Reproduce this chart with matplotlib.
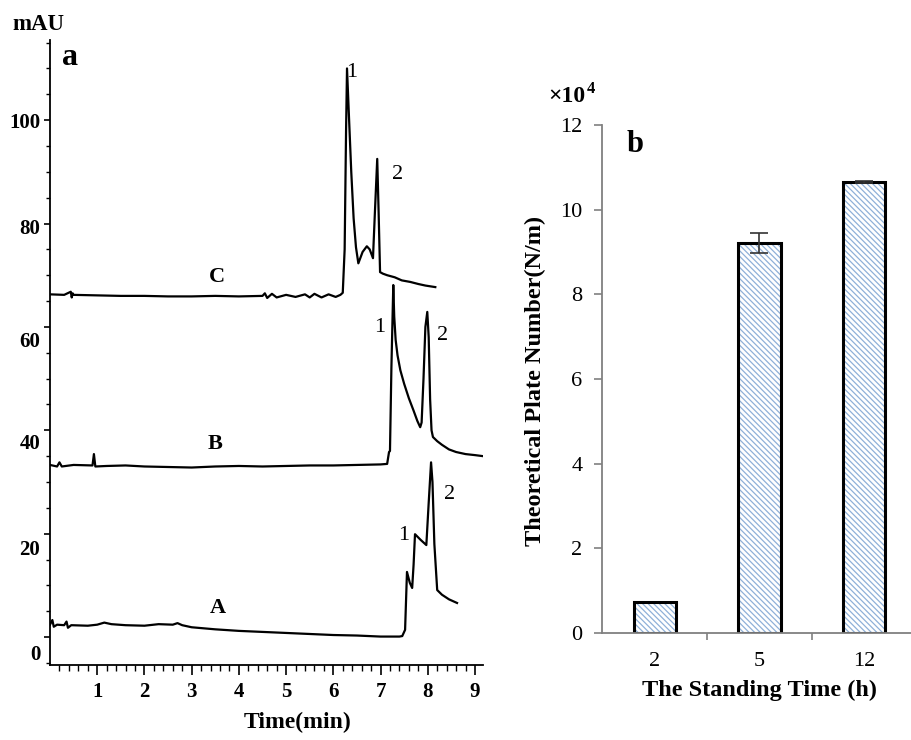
import matplotlib
matplotlib.use("Agg")
import matplotlib.pyplot as plt
from matplotlib.transforms import ScaledTranslation

plt.rcParams["font.family"] = ["Liberation Serif", "DejaVu Serif"]
plt.rcParams["hatch.linewidth"] = 0.9

# ---- panel a: electropherograms (time in min, signal in mAU) ----
time_A = [0.0, 0.05, 0.08, 0.15, 0.3, 0.35, 0.38, 0.45, 0.8, 1.0, 1.15, 1.3, 1.6, 2.0,
          2.3, 2.6, 2.7, 2.8, 3.0, 3.5, 4.0, 4.5, 5.0, 5.5, 6.0, 6.5, 7.0, 7.4, 7.46,
          7.52, 7.56, 7.62, 7.67, 7.70, 7.73, 7.85, 7.97, 8.02, 8.07, 8.10, 8.14, 8.20,
          8.3, 8.45, 8.62]
sig_A = [2.4, 3.3, 2.0, 2.4, 2.3, 3.0, 1.8, 2.3, 2.2, 2.4, 2.8, 2.5, 2.3, 2.2,
         2.5, 2.4, 2.7, 2.3, 1.9, 1.5, 1.2, 1.0, 0.8, 0.6, 0.4, 0.3, 0.1, 0.1, 0.2,
         1.4, 12.6, 10.5, 9.5, 14.0, 19.9, 18.8, 17.8, 26.0, 33.8, 30.0, 18.0, 9.1,
         8.2, 7.3, 6.6]

time_B = [0.0, 0.15, 0.2, 0.25, 0.5, 0.9, 0.93, 0.96, 1.2, 1.6, 2.0, 2.5, 3.0, 3.5,
          4.0, 4.5, 5.0, 5.5, 6.0, 6.5, 7.0, 7.14, 7.18, 7.2, 7.23, 7.27, 7.29, 7.32,
          7.36, 7.42, 7.5, 7.6, 7.7, 7.78, 7.84, 7.87, 7.91, 7.95, 7.99, 8.02, 8.05,
          8.08, 8.11, 8.2, 8.3, 8.45, 8.6, 8.8, 9.0, 9.17]
sig_B = [33.3, 33.0, 33.8, 33.0, 33.3, 33.2, 35.4, 33.0, 33.1, 33.2, 33.0, 32.9,
         32.8, 33.0, 33.1, 33.0, 33.1, 33.2, 33.2, 33.3, 33.4, 33.5, 35.8, 36.0, 52.0,
         68.1, 62.0, 57.5, 54.5, 51.6, 49.0, 46.2, 43.8, 41.8, 40.6, 41.5, 50.0, 60.0,
         62.9, 58.0, 46.0, 40.0, 38.7, 37.9, 37.2, 36.3, 35.8, 35.4, 35.2, 35.0]

time_C = [0.0, 0.3, 0.44, 0.46, 0.48, 0.5, 1.0, 1.5, 2.0, 2.5, 3.0, 3.5, 4.0, 4.5,
          4.55, 4.6, 4.7, 4.8, 5.0, 5.2, 5.4, 5.5, 5.6, 5.75, 5.9, 6.05, 6.15, 6.2,
          6.24, 6.27, 6.29, 6.33, 6.38, 6.43, 6.48, 6.53, 6.62, 6.71, 6.77, 6.84, 6.88,
          6.93, 6.96, 6.99, 7.05, 7.14, 7.3, 7.45, 7.63, 7.8, 7.95, 8.16]
sig_C = [66.3, 66.2, 66.8, 65.7, 66.5, 66.2, 66.1, 66.0, 66.0, 65.9, 65.9, 66.0,
         65.9, 66.0, 66.5, 65.6, 66.4, 65.7, 66.2, 65.8, 66.3, 65.7, 66.4, 65.7, 66.3,
         65.8, 66.2, 66.6, 75.0, 98.0, 110.0, 101.0, 90.0, 81.0, 75.4, 72.3, 74.5,
         75.6, 75.0, 73.3, 82.0, 92.5, 82.0, 70.6, 70.3, 70.0, 69.6, 69.0, 68.7, 68.3,
         68.0, 67.7]

trace_names = ["A", "B", "C"]
trace_label_pos = [(3.55, 5.6), (3.5, 37.3), (3.53, 69.6)]
peak_labels = ["1", "2", "1", "2", "1", "2"]
peak_label_pos = [(7.5, 19.7), (8.46, 27.5), (6.98, 59.8), (8.31, 58.4),
                  (6.38, 109.3), (7.36, 89.4)]

# ---- panel b: theoretical plate number ----
standing_time = ["2", "5", "12"]
plate_number = [0.73, 9.21, 10.65]   # x10^4 N/m
plate_err = [0.0, 0.24, 0.03]

fig = plt.figure(figsize=(9.11, 7.40), dpi=100)

ax1 = fig.add_axes([50 / 911, 1 - 665 / 740, 433 / 911, 625 / 740])
for t, s in [(time_A, sig_A), (time_B, sig_B), (time_C, sig_C)]:
    ax1.plot(t, s, color="black", lw=1.6)
for name, (x, y) in zip(trace_names, trace_label_pos):
    ax1.text(x, y, name, fontsize=16, fontweight="bold", ha="center", va="center")
for lab, (x, y) in zip(peak_labels, peak_label_pos):
    ax1.text(x, y, lab, fontsize=16, ha="center", va="center")

ax1.set_xlim(0, 9.17)
ax1.set_ylim(-5.4, 115.5)
ax1.set_xticks(range(1, 10))
ax1.set_xticks([i * 0.2 for i in range(1, 46)], minor=True)
ax1.set_yticks(range(0, 101, 20))
ax1.set_yticks(range(-5, 116, 5), minor=True)
ax1.spines["top"].set_visible(False)
ax1.spines["right"].set_visible(False)
for sp in ["left", "bottom"]:
    ax1.spines[sp].set_linewidth(1.3)
ax1.tick_params(axis="x", which="major", length=7, width=1.2, pad=5, labelsize=15)
ax1.tick_params(axis="x", which="minor", length=4, width=1.0)
ax1.tick_params(axis="y", which="major", length=4, width=1.2, pad=3, labelsize=15)
ax1.tick_params(axis="y", which="minor", length=3, width=1.0)
for lab in ax1.get_xticklabels() + ax1.get_yticklabels():
    lab.set_fontweight("bold")
# the printed y labels sit a little below their ticks
label_drop = [15, 14, 11, 13, 3, 0]
for lab, d in zip(ax1.get_yticklabels(), label_drop):
    lab.set_transform(lab.get_transform() + ScaledTranslation(0, -d / 100, fig.dpi_scale_trans))

fig.text(38 / 911, 1 - 24 / 740, "mAU", fontsize=16.5, fontweight="bold",
         ha="center", va="center")
fig.text(62 / 911, 1 - 65 / 740, "a", fontsize=23, fontweight="bold",
         ha="left", va="baseline")
fig.text(298 / 911, 1 - 722 / 740, "Time(min)", fontsize=17, fontweight="bold",
         ha="center", va="center")

# ---- panel b ----
ax2 = fig.add_axes([602 / 911, 1 - 633 / 740, 309 / 911, 508 / 740])
xpos = list(range(len(standing_time)))
ax2.bar(xpos, plate_number, width=0.41, color="white", edgecolor="#8fb0d8",
        hatch="\\" * 6, linewidth=0)
ax2.bar(xpos, plate_number, width=0.41, fill=False, edgecolor="black", linewidth=2.2)
ax2.errorbar(xpos[1:], plate_number[1:], yerr=plate_err[1:], fmt="none",
             ecolor="#333333", elinewidth=1.2, capsize=6.5, capthick=1.2)

ax2.set_xlim(-0.507, 2.45)
ax2.set_ylim(0, 12)
ax2.set_yticks(range(0, 13, 2))
ax2.set_xticks(xpos, standing_time)
ax2.set_xticks([0.5, 1.5], minor=True)
ax2.spines["top"].set_visible(False)
ax2.spines["right"].set_visible(False)
for sp in ["left", "bottom"]:
    ax2.spines[sp].set_color("#808080")
    ax2.spines[sp].set_linewidth(1.3)
ax2.tick_params(axis="x", which="major", length=0, pad=14, labelsize=16)
ax2.tick_params(axis="x", which="minor", length=5, width=1.2, color="#808080")
ax2.tick_params(axis="y", length=6, width=1.2, color="#808080", pad=8, labelsize=16)

fig.text(548 / 911, 1 - 102 / 740, "\u00d710", fontsize=17, fontweight="bold",
         ha="left", va="baseline")
fig.text(587 / 911, 1 - 93 / 740, "4", fontsize=12, fontweight="bold",
         ha="left", va="baseline")
fig.text(627 / 911, 1 - 152 / 740, "b", fontsize=22, fontweight="bold",
         ha="left", va="baseline")
fig.text(535 / 911, 1 - 381 / 740, "Theoretical Plate Number(N/m)", fontsize=17.5,
         fontweight="bold", rotation=90, ha="center", va="center")
fig.text(760 / 911, 1 - 690 / 740, "The Standing Time (h)", fontsize=17.5,
         fontweight="bold", ha="center", va="center")

fig.savefig("out.png", dpi=100)
